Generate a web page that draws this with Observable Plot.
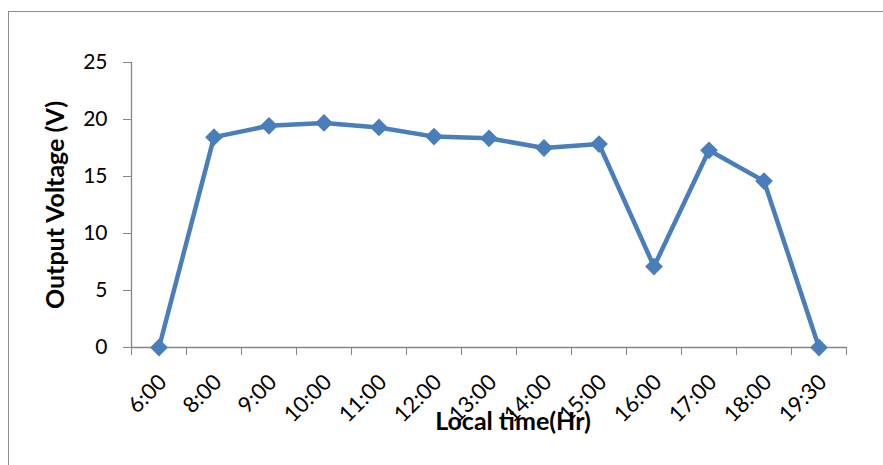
<!DOCTYPE html>
<html><head><meta charset="utf-8">
<script src="https://cdn.jsdelivr.net/npm/d3@7"></script>
<script src="https://cdn.jsdelivr.net/npm/@observablehq/plot@0.6"></script>
<style>
body{margin:0;background:#fff;}
#wrap{position:relative;width:883px;height:465px;overflow:hidden;}
#border{position:absolute;left:8px;top:11px;width:1000px;height:1000px;border-left:1.5px solid #8c8c8c;border-top:1.5px solid #8c8c8c;}
#chart{position:absolute;left:0;top:0;}
</style></head>
<body><div id="wrap"><div id="border"></div><div id="chart"></div></div>
<script>
const times = ["6:00","8:00","9:00","10:00","11:00","12:00","13:00","14:00","15:00","16:00","17:00","18:00","19:30"];
const voltage = [0, 18.45, 19.45, 19.7, 19.3, 18.5, 18.35, 17.5, 17.85, 7.1, 17.3, 14.6, 0];
const yTicks = [0, 5, 10, 15, 20, 25];
const xTitle = "Local time(Hr)";
const yTitle = "Output Voltage (V)";

const data = times.map((t, i) => ({i, t, v: voltage[i]}));
const boundaries = d3.range(times.length + 1).map(k => k - 0.5);
const axisColor = "#868686";
const seriesColor = "#4a7ebb";

const chart = Plot.plot({
  width: 883, height: 465,
  marginLeft: 131, marginRight: 37, marginTop: 62, marginBottom: 118,
  style: {fontFamily: "Lato", background: "transparent", color: "#000"},
  x: {type: "linear", domain: [-0.5, times.length - 0.5]},
  y: {domain: [0, 25]},
  marks: [
    Plot.ruleX([-0.5], {stroke: axisColor, strokeWidth: 1.3}),
    Plot.ruleY([0], {stroke: axisColor, strokeWidth: 1.3}),
    Plot.axisY({ticks: yTicks, tickSize: 8, tickPadding: 16, fontSize: 21, stroke: axisColor, fill: "#000", label: null, tickFormat: d => String(d)}),
    Plot.axisX({ticks: boundaries, tickSize: 8, stroke: axisColor, tickFormat: () => "", label: null}),
    Plot.axisX({ticks: d3.range(times.length), tickSize: 0, tickPadding: 28, tickRotate: -45, fontSize: 22, dx: 4, dy: 3, fill: "#000", tickFormat: i => times[i], label: null}),
    Plot.line(data, {x: "i", y: "v", stroke: seriesColor, strokeWidth: 4.5, strokeLinejoin: "round"}),
    Plot.dot(data, {x: "i", y: "v", symbol: "diamond2", r: 8, fill: seriesColor, stroke: null}),
    Plot.text([xTitle], {frameAnchor: "bottom", lineAnchor: "middle", textAnchor: "middle", dx: 24, dy: 74, fontWeight: "bold", fontSize: 25, fill: "#000"}),
    Plot.text([yTitle], {frameAnchor: "left", lineAnchor: "middle", textAnchor: "middle", rotate: -90, dx: -76, fontWeight: "bold", fontSize: 25, fill: "#000"})
  ]
});
document.getElementById("chart").appendChild(chart);
</script>
</body></html>
